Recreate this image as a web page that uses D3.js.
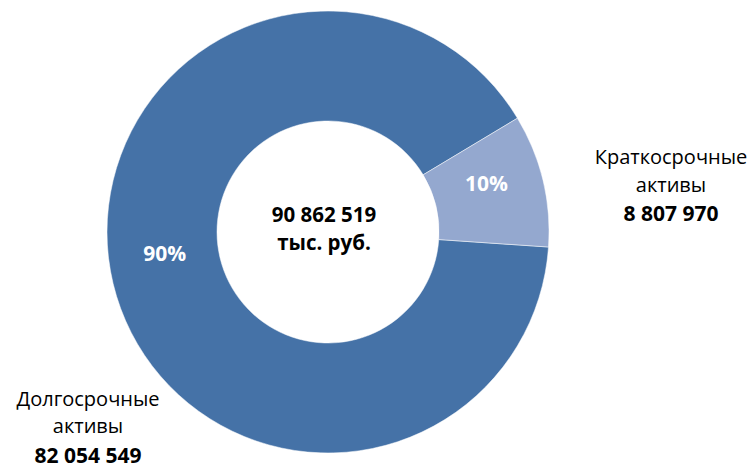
<!DOCTYPE html>
<html>
<head>
<meta charset="utf-8">
<script src="https://cdn.jsdelivr.net/npm/d3@7"></script>
<style>
  body { margin: 0; background: #fff; }
  text { font-family: "Open Sans", Lato, sans-serif; }
</style>
</head>
<body>
<svg id="chart"></svg>
<script>
// данные
const categories = ["Долгосрочные активы", "Краткосрочные активы"];
const values = [82054549, 8807970];
const valueLabels = ["82 054 549", "8 807 970"];
const totalLabel = ["90 862 519", "тыс. руб."];
const colors = ["#4572A7", "#94A8CF"];

const width = 756,
  height = 469,
  cx = 328,
  cy = 232,
  outerRadius = 221,
  innerRadius = 111;

const svg = d3.select("#chart")
  .attr("width", width)
  .attr("height", height);

const g = svg.append("g")
  .attr("transform", `translate(${cx}, ${cy})`);

const startAngle = 93.9 * Math.PI / 180;

const pie = d3.pie()
  .sort(null)
  .value(d => d)
  .startAngle(startAngle)
  .endAngle(startAngle + 2 * Math.PI);

const arc = d3.arc()
  .innerRadius(innerRadius)
  .outerRadius(outerRadius);

const labelArc = d3.arc()
  .innerRadius(166)
  .outerRadius(166);

const arcs = pie(values);
const total = d3.sum(values);

g.selectAll("path")
  .data(arcs)
  .enter()
  .append("path")
    .attr("d", arc)
    .attr("fill", (d, i) => colors[i])
    .attr("stroke", "#fff")
    .attr("stroke-width", 0.5);

// проценты (сдвиг от центроида к базовой линии)
const pctOffset = [[-2, -10], [-3, -2]];
g.selectAll("text.pct")
  .data(arcs)
  .enter()
  .append("text")
    .attr("class", "pct")
    .attr("transform", (d, i) => {
      const c = labelArc.centroid(d);
      return `translate(${c[0] + pctOffset[i][0]}, ${c[1] + pctOffset[i][1]})`;
    })
    .attr("text-anchor", "middle")
    .style("font-size", "21px")
    .style("font-weight", "700")
    .style("fill", "#fff")
    .text(d => d3.format(".0%")(d.value / total));

// центр
g.append("text")
  .attr("text-anchor", "middle")
  .style("font-size", "20.5px")
  .style("font-weight", "700")
  .style("fill", "#000")
  .selectAll("tspan")
  .data(totalLabel)
  .enter()
  .append("tspan")
    .attr("x", -4)
    .attr("y", (d, i) => -10 + i * 28)
    .text(d => d);

// подписи категорий
const labelX = [88, 671];
const labelY = [[406, 433, 463], [164, 191.5, 221]];

categories.forEach((cat, i) => {
  const words = cat.split(" ");
  const t = svg.append("text")
    .attr("text-anchor", "middle")
    .style("font-size", "20px")
    .style("fill", "#000");
  words.forEach((w, j) => {
    t.append("tspan")
      .attr("x", labelX[i])
      .attr("y", labelY[i][j])
      .text(w);
  });
  t.append("tspan")
    .attr("x", labelX[i])
    .attr("y", labelY[i][2])
    .style("font-size", "21px")
    .style("font-weight", "700")
    .text(valueLabels[i]);
});
</script>
</body>
</html>
